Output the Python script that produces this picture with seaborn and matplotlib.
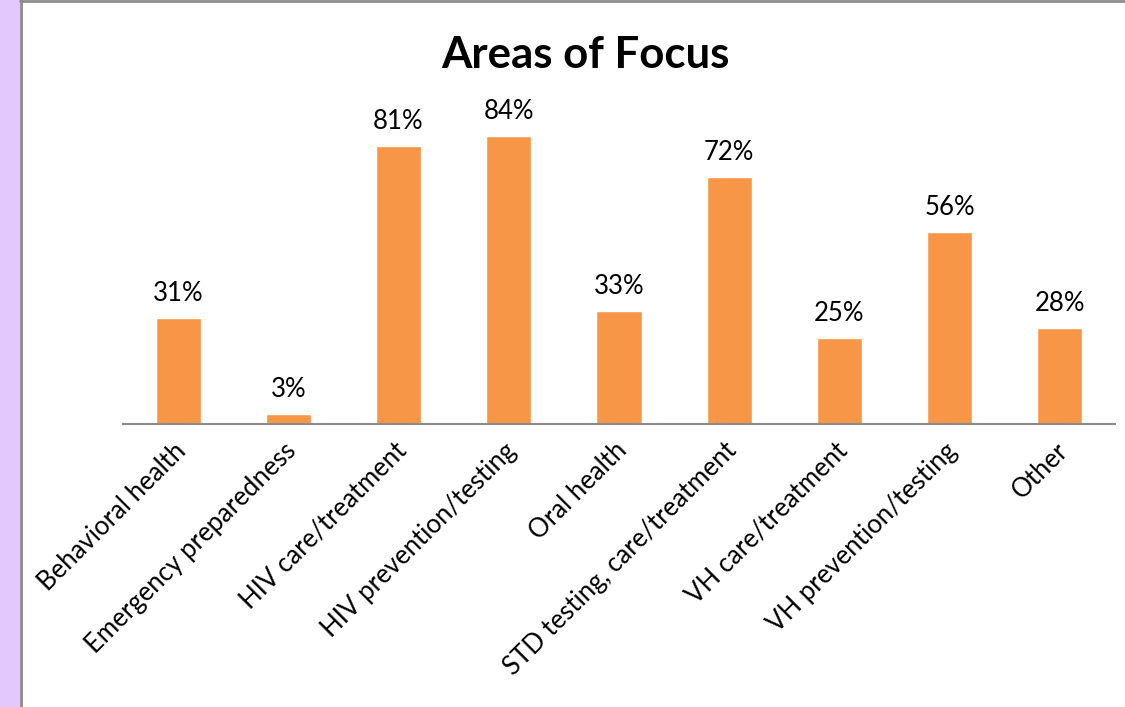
import matplotlib
matplotlib.use("Agg")
import matplotlib.pyplot as plt
from matplotlib.patches import Rectangle
from matplotlib.transforms import ScaledTranslation
import seaborn as sns
import pandas as pd

categories = [
    "Behavioral health",
    "Emergency preparedness",
    "HIV care/treatment",
    "HIV prevention/testing",
    "Oral health",
    "STD testing, care/treatment",
    "VH care/treatment",
    "VH prevention/testing",
    "Other",
]
percentages = [31, 3, 81, 84, 33, 72, 25, 56, 28]

df = pd.DataFrame({"area": categories, "pct": percentages})

sns.set_theme(style="white")
plt.rcParams["font.family"] = ["Lato", "DejaVu Sans"]

fig = plt.figure(figsize=(11.25, 7.07), dpi=100)
fig.patch.set_facecolor("white")

# lavender strip and grey frame along the left and top edges
fig.patches.append(Rectangle((0, 0), 20 / 1125, 1, transform=fig.transFigure,
                             facecolor="#E2C8FC", edgecolor="none", zorder=0))
fig.add_artist(plt.Line2D([20.5 / 1125, 20.5 / 1125], [0, 1], transform=fig.transFigure,
                          color="#8C8C8C", linewidth=2))
fig.add_artist(plt.Line2D([20 / 1125, 1], [1 - 1 / 707, 1 - 1 / 707], transform=fig.transFigure,
                          color="#8C8C8C", linewidth=2))

ax = fig.add_axes([123 / 1125, 1 - 424 / 707, (1115 - 123) / 1125, (424 - 81) / 707])
sns.barplot(data=df, x="area", y="pct", color="#F79646", saturation=1,
            width=0.41, ax=ax)

ax.set_ylim(0, 100)
ax.set_xlim(-0.5, len(categories) - 0.5)
ax.set_xlabel("")
ax.set_ylabel("")
ax.set_yticks([])
for side in ["top", "right", "left"]:
    ax.spines[side].set_visible(False)
ax.spines["bottom"].set_color("#8C8C8C")
ax.spines["bottom"].set_linewidth(1.5)
ax.tick_params(axis="x", length=0, pad=10)
ax.set_xticks(range(len(categories)))
ax.set_xticklabels(categories, rotation=45, ha="right", rotation_mode="anchor",
                   fontsize=18.5, color="black")
shift = ScaledTranslation(-5 / 100, 0, fig.dpi_scale_trans)
for lbl in ax.get_xticklabels():
    lbl.set_transform(lbl.get_transform() + shift)

for i, v in enumerate(percentages):
    ax.text(i, v + 3.5, f"{v}%", ha="center", va="bottom", fontsize=18.5, color="black")

fig.text(585 / 1125, 1 - 55 / 707, "Areas of Focus", ha="center", va="center",
         fontsize=31.5, fontweight="bold", color="black")

fig.savefig("out.png", dpi=100)
